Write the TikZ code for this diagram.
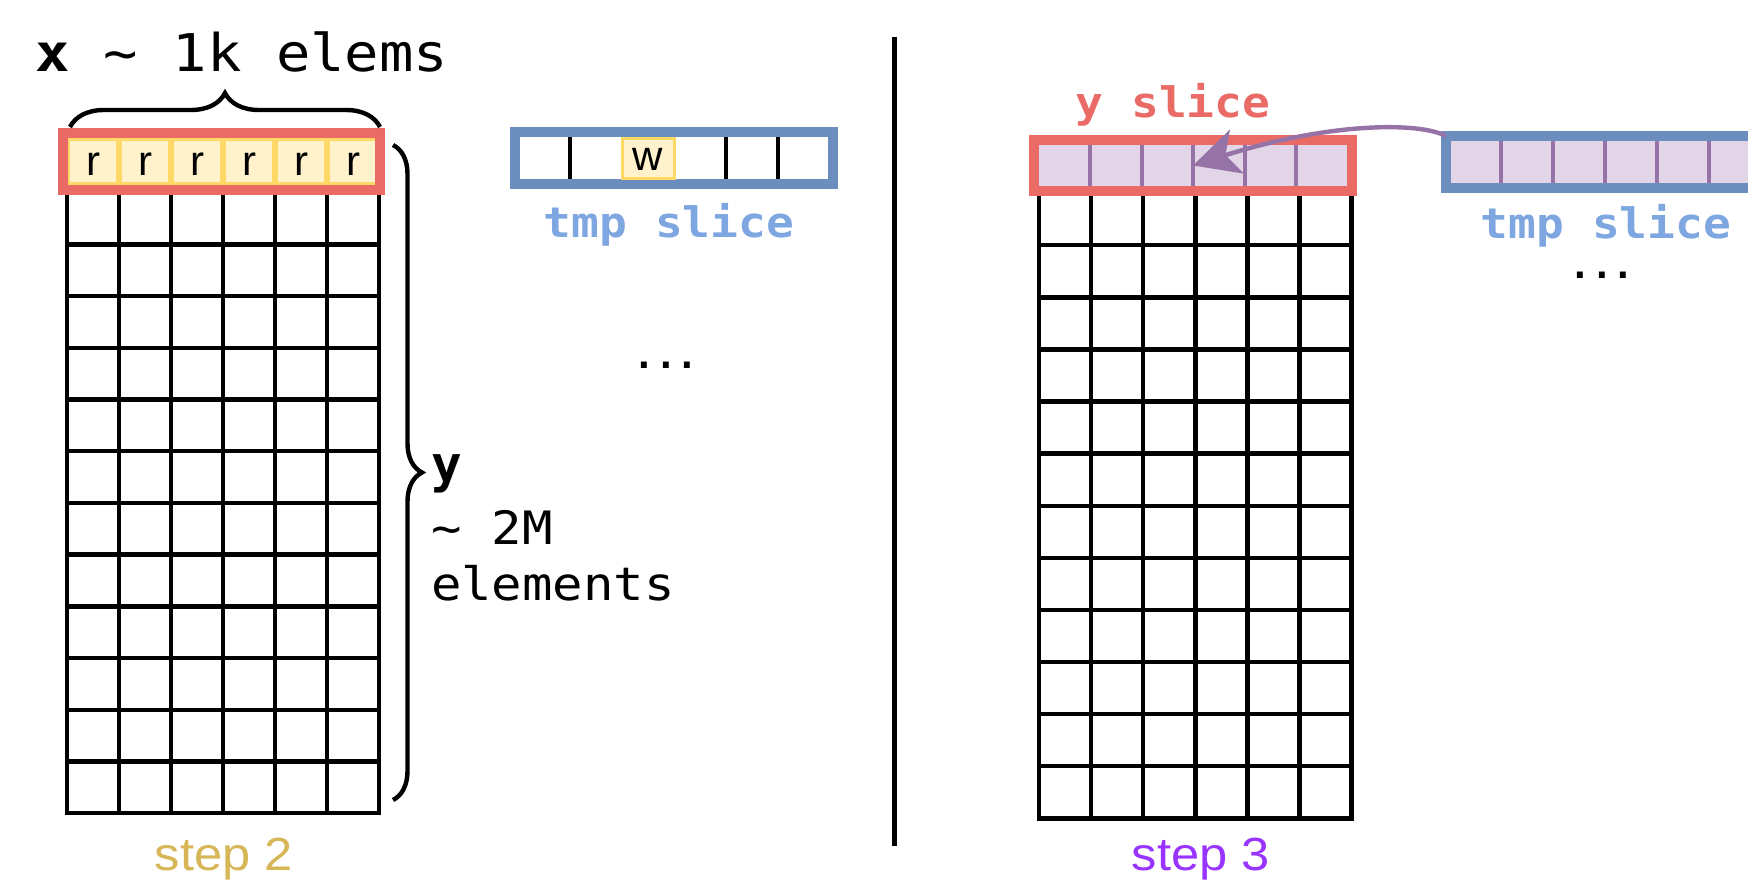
\documentclass[tikz,border=0pt]{standalone}
\usepackage{fontspec}
\setmainfont{Liberation Sans}
\newfontfamily\monoA[FakeStretch=1.1]{DejaVu Sans Mono}
\newfontfamily\monoN{DejaVu Sans Mono}
\newfontfamily\sansS[FakeStretch=1.09]{Liberation Sans}
\usetikzlibrary{decorations.pathreplacing,arrows.meta,fit}
\definecolor{redc}{HTML}{EA6B66}
\definecolor{bluec}{HTML}{6C8EBF}
\definecolor{bluet}{HTML}{7EA6E0}
\definecolor{pline}{HTML}{9673A6}
\definecolor{pfill}{HTML}{E1D5E7}
\definecolor{yfill}{HTML}{FFF2CC}
\definecolor{yline}{HTML}{FFD966}
\definecolor{stepa}{HTML}{D6B656}
\definecolor{stepb}{HTML}{9933FF}
\begin{document}
\begin{tikzpicture}[x=0.5pt,y=-0.5pt,
  gridline/.style={draw=black,line width=2.2pt,line cap=rect},
  redbox/.style={draw=redc,line width=5pt,inner sep=0pt,outer sep=0pt},
  bluebox/.style={draw=bluec,line width=5pt,inner sep=0pt,outer sep=0pt},
  ycell/.style={fill=yfill,draw=yline,line width=1.5pt},
  pdiv/.style={draw=pline,line width=2pt},
  bdiv/.style={draw=black,line width=2.2pt},
  lbl/.style={inner sep=0pt,outer sep=0pt},
  bigmono/.style={font=\monoA\fontsize{26pt}{30pt}\selectfont},
  slicelbl/.style={font=\monoA\bfseries\fontsize{21pt}{25pt}\selectfont},
  cellfont/.style={font=\fontsize{21pt}{25pt}\selectfont},
  stepfont/.style={font=\sansS\fontsize{23.25pt}{28pt}\selectfont},
  dotsfont/.style={font=\monoN\bfseries\fontsize{18pt}{22pt}\selectfont},
  bracestyle/.style={draw=black,line width=2.2pt,decorate},
  flow/.style={draw=pline,line width=2.2pt,-{Stealth[length=23pt,width=23pt,inset=6pt]}}
]
\useasboundingbox (0,0) rectangle (1748,883);
\clip (0,0) rectangle (1748,883);
\fill[white] (0,0) rectangle (1748,883);

% ---------- left grid (step 2) ----------
\foreach \i in {0,...,6} \draw[gridline] ({67+52*\i},141) -- ({67+52*\i},813);
\foreach \j in {0,...,13} \draw[gridline] (67,{141+51.7*\j}) -- (379,{141+51.7*\j});

% yellow read cells
\foreach \i in {0,...,5} {
  \draw[ycell] ({67+52*\i+1.5},139.5) rectangle ({67+52*(\i+1)-1.5},183.5);
  \node[lbl,cellfont,anchor=base] (r\i) at ({93+52*\i},175) {r};
}
\node[redbox,fit={(63,133) (380,190)}] (yL) {};

% braces
\draw[bracestyle,decoration={brace,amplitude=17pt}] (70,127) -- (380,127);
\draw[bracestyle,decoration={brace,amplitude=14.5pt}] (393,145) -- (393,800);

\node[lbl,bigmono,anchor=base west] (xlab) at (35,72) {\textbf{x} \textasciitilde{} 1k elems};
\node[lbl,font=\monoN\bfseries\fontsize{25.5pt}{30pt}\selectfont,anchor=base west] (ylab) at (431,482) {y};
\node[lbl,font=\monoA\fontsize{23pt}{27pt}\selectfont,anchor=base west] (ylab2) at (431,544) {\textasciitilde{} 2M};
\node[lbl,font=\monoA\fontsize{23pt}{27pt}\selectfont,anchor=base west] (ylab3) at (431,600) {elements};

% left tmp slice
\node[bluebox,fill=white,fit={(515.3,132) (832.7,184.3)}] (tmpL) {};
\foreach \x in {570,726,778} \draw[bdiv] (\x,137.3) -- (\x,179.3);
\draw[ycell] (622,138.5) rectangle (674,178.5);
\node[lbl,cellfont,anchor=base] (wcell) at (648,170) {w};
\node[lbl,slicelbl,text=bluet,anchor=base] (tmpLlab) at (669,237) {tmp slice};
\node[lbl,dotsfont,anchor=base] (dotsL) at (666,368) {...};

% divider
\draw[line width=2.5pt] (894,37) -- (894,846);

% ---------- right grid (step 3) ----------
\foreach \i in {0,...,6} \draw[gridline] ({1039+52.1*\i},141) -- ({1039+52.1*\i},818);
\foreach \j in {0,...,13} \draw[gridline] (1039,{141+52.1*\j}) -- (1351.6,{141+52.1*\j});

\fill[pfill] (1039,145) rectangle (1347,186);
\foreach \i in {1,...,5} \draw[pdiv] ({1039+51.4*\i},145) -- ({1039+51.4*\i},186);
\node[redbox,fit={(1034,140) (1352,191)}] (yR) {};
\node[lbl,slicelbl,text=redc,anchor=base] (yRlab) at (1173,118) {y slice};

% right tmp slice
\node[bluebox,fill=pfill,fit={(1445.7,136) (1785,188)}] (tmpR) {};
\foreach \i in {0,...,5} \draw[pdiv] ({1500.7+52*\i},141) -- ({1500.7+52*\i},183);
\node[lbl,slicelbl,text=bluet,anchor=base] (tmpRlab) at (1606,238) {tmp slice};
\node[lbl,dotsfont,anchor=base] (dotsR) at (1602,278) {...};

% write-back arrow
\draw[flow] (tmpR.north west) .. controls (1420,122) and (1330,122) .. (yR.center);

% step labels
\node[lbl,stepfont,text=stepa,anchor=base] (step2) at (224,870) {step 2};
\node[lbl,stepfont,text=stepb,anchor=base] (step3) at (1201,870) {step 3};
\end{tikzpicture}
\end{document}
